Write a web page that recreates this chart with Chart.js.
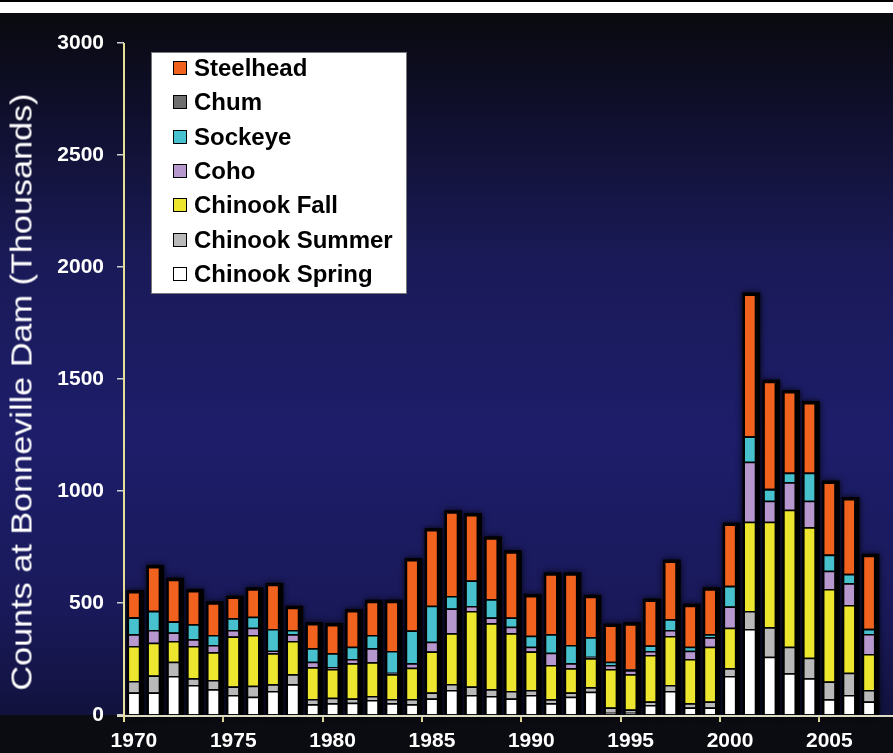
<!DOCTYPE html>
<html>
<head>
<meta charset="utf-8">
<script src="https://cdn.jsdelivr.net/npm/chart.js@4"></script>
<style>
  html, body { margin: 0; padding: 0; background: #000; }
  #wrap { position: relative; width: 893px; height: 753px; overflow: hidden; }
  #c { position: absolute; left: 0; top: 0; }
  #ytitle { position: absolute; left: 22px; top: 392px; white-space: nowrap; color: #fff;
    font-family: "Liberation Sans", Arial, sans-serif; font-size: 29px;
    transform: translate(-50%, -50%) rotate(-90deg) scaleX(1.18); }
  #legend { position: absolute; left: 151px; top: 52px; width: 256px; height: 242px;
    background: #fff; border: 1px solid #777; box-sizing: border-box; }
  .row { position: absolute; left: 0; height: 34px; line-height: 34px; white-space: nowrap;
    font-family: "Liberation Sans", Arial, sans-serif; font-weight: bold; font-size: 24px; color: #000; }
  .sw { position: absolute; left: 21px; top: 10px; width: 12px; height: 12px; border: 1px solid #000; }
  .tx { position: absolute; left: 42px; top: 0; }
</style>
</head>
<body>
<div id="wrap">
  <canvas id="c" width="893" height="753"></canvas>
  <div id="ytitle">Counts at Bonneville Dam (Thousands)</div>
  <div id="legend"></div>
</div>
<script>
const years = [1970,1971,1972,1973,1974,1975,1976,1977,1978,1979,
               1980,1981,1982,1983,1984,1985,1986,1987,1988,1989,
               1990,1991,1992,1993,1994,1995,1996,1997,1998,1999,
               2000,2001,2002,2003,2004,2005,2006,2007];
const yTicks = [0, 500, 1000, 1500, 2000, 2500, 3000];

const chinookSpring = [100,100,174,134,115,89,82,107,137,48,
                       52,55,67,52,48,74,112,89,85,74,
                       89,52,82,104,10,10,45,107,33,34,
                       174,384,260,186,164,70,89,60];
const chinookSummer = [52,76,64,30,41,38,49,30,45,23,
                       25,19,18,19,23,27,26,38,30,33,
                       23,18,19,20,23,15,15,27,19,26,
                       35,80,132,119,92,79,100,52];
const chinookFall   = [156,147,92,144,124,223,226,139,148,142,
                       128,157,150,111,140,182,227,337,295,258,
                       171,153,108,129,172,157,208,219,198,245,
                       181,399,471,611,582,414,302,160];
const coho          = [52,57,38,30,33,30,33,11,30,25,
                       8,19,63,7,20,44,111,23,25,29,
                       22,55,22,7,18,18,18,27,37,42,
                       94,268,94,123,119,81,97,90];
const sockeye       = [75,84,49,67,44,52,49,97,20,60,
                       63,55,59,97,146,161,55,113,82,41,
                       49,82,82,87,15,4,24,47,18,13,
                       92,112,51,43,125,71,42,22];
const chum          = [1,1,1,0,0,0,0,0,0,0,
                       0,0,0,0,0,0,0,0,0,0,
                       0,0,0,0,0,0,0,0,0,0,
                       1,1,2,1,1,1,1,1];
const steelhead     = [113,196,186,149,142,92,122,197,99,108,
                       126,159,149,220,315,338,374,293,272,292,
                       177,268,315,181,161,201,201,258,183,201,
                       273,633,478,359,310,322,333,326];

const seriesNames  = ["Chinook Spring","Chinook Summer","Chinook Fall","Coho","Sockeye","Chum","Steelhead"];
const seriesValues = [chinookSpring, chinookSummer, chinookFall, coho, sockeye, chum, steelhead];
const seriesColors = ["#ffffff","#b9b9b9","#ece62e","#b698cf","#46c1cd","#6e6e6e","#f1621f"];

const datasets = seriesNames.map((n, i) => ({
  label: n,
  data: seriesValues[i],
  backgroundColor: seriesColors[i],
  borderColor: "#000",
  borderWidth: 1.5,
  categoryPercentage: 1.0,
  barPercentage: 0.64
}));

// HTML legend (top series first)
const leg = document.getElementById("legend");
for (let k = 0; k < seriesNames.length; k++) {
  const i = seriesNames.length - 1 - k;
  const row = document.createElement("div");
  row.className = "row";
  row.style.top = (k * 34.33 - 2) + "px";
  row.innerHTML = '<span class="sw" style="background:' + seriesColors[i] + '"></span><span class="tx">' + seriesNames[i] + '</span>';
  leg.appendChild(row);
}

const bgPlugin = {
  id: "bg",
  beforeDraw(chart) {
    const ctx = chart.ctx;
    const W = chart.width, H = chart.height;
    const bottom = chart.chartArea.bottom;
    ctx.save();
    const g = ctx.createLinearGradient(0, 13, 0, bottom);
    g.addColorStop(0, "#0a0a0f");
    g.addColorStop(0.12, "#0e0e28");
    g.addColorStop(0.35, "#1a1a58");
    g.addColorStop(0.6, "#1d1d6a");
    g.addColorStop(0.85, "#19195a");
    g.addColorStop(1, "#12123e");
    ctx.fillStyle = g;
    ctx.fillRect(0, 13, W, bottom - 13);
    ctx.fillStyle = "#0b0b12";
    ctx.fillRect(0, bottom, W, H - bottom);
    ctx.fillStyle = "#000";
    ctx.fillRect(0, 0, W, 2);
    ctx.fillStyle = "#fff";
    ctx.fillRect(0, 2, W, 11);
    ctx.restore();
  }
};

const shadowPlugin = {
  id: "barShadow",
  beforeDatasetsDraw(chart) {
    const ctx = chart.ctx;
    const y = chart.scales.y;
    const meta = chart.getDatasetMeta(0);
    ctx.save();
    meta.data.forEach((el, idx) => {
      let total = 0;
      seriesValues.forEach(s => total += s[idx]);
      const top = y.getPixelForValue(total);
      const w = el.width;
      ctx.shadowColor = "rgba(0,0,0,0.85)";
      ctx.shadowBlur = 6;
      ctx.fillStyle = "#000";
      ctx.fillRect(el.x - w / 2 - 1, top - 2, w + 5, y.getPixelForValue(0) - top + 2);
    });
    ctx.restore();
  }
};

const axisPlugin = {
  id: "axisLines",
  afterDatasetsDraw(chart) {
    const ctx = chart.ctx;
    const a = chart.chartArea;
    ctx.save();
    ctx.lineWidth = 2;
    ctx.strokeStyle = "#dcdcc4";
    ctx.beginPath();
    ctx.moveTo(117, a.bottom + 1);
    ctx.lineTo(chart.width, a.bottom + 1);
    ctx.stroke();
    ctx.strokeStyle = "#e4e09a";
    ctx.beginPath();
    ctx.moveTo(a.left, a.top);
    ctx.lineTo(a.left, a.bottom + 7);
    ctx.stroke();
    ctx.restore();
  }
};

new Chart(document.getElementById("c"), {
  type: "bar",
  data: { labels: years.map(String), datasets },
  plugins: [bgPlugin, shadowPlugin, axisPlugin],
  options: {
    responsive: false,
    animation: false,
    devicePixelRatio: 1,
    layout: { padding: { left: 0, right: 14, top: 43, bottom: 0 } },
    plugins: { legend: { display: false }, tooltip: { enabled: false } },
    scales: {
      x: {
        stacked: true,
        offset: true,
        afterFit(s) { s.height = 38; },
        border: { display: false },
        grid: {
          offset: true,
          drawOnChartArea: false,
          drawTicks: true,
          tickLength: 7,
          lineWidth: 2,
          color: (c) => (c.index !== undefined && years[c.index] % 5 === 0) ? "#e4e09a" : "rgba(0,0,0,0)"
        },
        ticks: {
          autoSkip: false,
          maxRotation: 0,
          minRotation: 0,
          padding: 7,
          color: "#ffffff",
          font: { family: "Liberation Sans, Arial, sans-serif", weight: "bold", size: 21 },
          callback: (v, i) => (years[i] % 5 === 0 ? String(years[i]) : "")
        }
      },
      y: {
        stacked: true,
        min: 0,
        max: 3000,
        afterFit(s) { s.width = 124; },
        afterBuildTicks(s) { s.ticks = yTicks.map(v => ({ value: v })); },
        border: { display: false },
        grid: {
          drawOnChartArea: false,
          drawTicks: true,
          tickLength: 7,
          lineWidth: 1.5,
          color: "#cfcfcf"
        },
        ticks: {
          padding: 13,
          color: "#ffffff",
          font: { family: "Liberation Sans, Arial, sans-serif", weight: "bold", size: 21 },
          callback: (v) => String(v)
        }
      }
    }
  }
});
</script>
</body>
</html>
